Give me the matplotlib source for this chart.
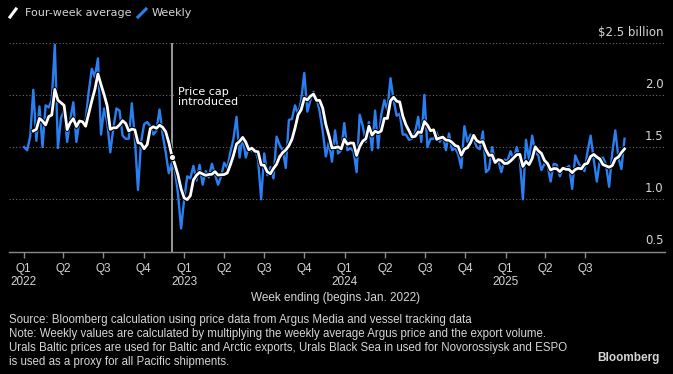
import matplotlib
matplotlib.use("Agg")
import matplotlib.pyplot as plt
import matplotlib.dates as mdates
import matplotlib.patheffects as pe
from matplotlib.lines import Line2D
import numpy as np
import pandas as pd

# ---------------- data ----------------
start_week = "2022-01-02"
weekly = [
    1.50, 1.47, 1.60, 2.05, 1.56, 1.89, 1.50, 1.90, 1.88, 1.95,
    2.48, 1.49, 1.78, 1.85, 1.55, 1.76, 1.93, 1.55, 1.76, 1.73,
    1.76, 2.03, 2.25, 2.17, 2.35, 1.62, 1.87, 1.74, 1.45, 1.68,
    1.87, 1.85, 1.61, 1.58, 1.58, 1.92, 1.58, 1.09, 1.55, 1.72,
    1.74, 1.70, 1.62, 1.66, 1.86, 1.62, 1.45, 1.25, 1.35, 1.28,
    1.05, 0.72, 1.00, 1.22, 1.20, 1.32, 1.18, 1.33, 1.14, 1.27,
    1.21, 1.34, 1.24, 1.14, 1.22, 1.35, 1.30, 1.45, 1.58, 1.79,
    1.40, 1.60, 1.40, 1.50, 1.46, 1.48, 1.38, 1.00, 1.44, 1.23,
    1.31, 1.20, 1.60, 1.52, 1.47, 1.30, 1.76, 1.77, 1.90, 1.81,
    1.95, 2.21, 1.84, 1.95, 2.03, 1.97, 1.84, 1.65, 1.41, 1.55,
    1.36, 1.66, 1.44, 1.47, 1.73, 1.47, 1.49, 1.46, 1.26, 1.81,
    1.70, 1.55, 1.74, 1.47, 1.85, 1.49, 1.81, 1.95, 1.85, 2.16,
    1.95, 1.80, 1.82, 1.62, 1.62, 1.57, 1.58, 1.64, 1.79, 1.55,
    2.00, 1.50, 1.58, 1.58, 1.64, 1.55, 1.61, 1.47, 1.63, 1.47,
    1.49, 1.43, 1.30, 1.70, 1.55, 1.62, 1.58, 1.50, 1.48, 1.65,
    1.26, 1.29, 1.50, 1.36, 1.37, 1.26, 1.38, 1.37, 1.46, 1.38,
    1.50, 1.38, 1.00, 1.57, 1.38, 1.61, 1.45, 1.42, 1.28, 1.34,
    1.33, 1.17, 1.34, 1.33, 1.22, 1.30, 1.30, 1.32, 1.10, 1.42,
    1.35, 1.30, 1.27, 1.46, 1.61, 1.38, 1.17, 1.38, 1.40, 1.33,
    1.12, 1.44, 1.66, 1.40, 1.29, 1.58,
]
quarter_starts = pd.date_range("2022-01-01", "2025-07-01", freq="QS")
quarter_labels = ["Q1\n2022", "Q2", "Q3", "Q4",
                  "Q1\n2023", "Q2", "Q3", "Q4",
                  "Q1\n2024", "Q2", "Q3", "Q4",
                  "Q1\n2025", "Q2", "Q3"]
y_gridvals = [1.0, 1.5, 2.0, 2.5]
y_labels = ["0.5", "1.0", "1.5", "2.0", "$2.5 billion"]
y_labelvals = [0.5, 1.0, 1.5, 2.0, 2.5]
price_cap_date = pd.Timestamp("2022-12-05")

dates = pd.date_range(start_week, periods=len(weekly), freq="7D")
s = pd.Series(weekly, index=dates)
avg = s.rolling(4).mean()

# ---------------- style ----------------
W, H = 673, 374
BLUE = "#2a80f2"
TXT = "#d6d6d6"
narrow = ["Liberation Sans", "DejaVu Sans"]

fig = plt.figure(figsize=(W / 100, H / 100), dpi=100, facecolor="black")
ax = fig.add_axes([9 / W, (H - 251.5) / H, 656 / W, 208.8 / H])
ax.set_facecolor("black")

xnum = mdates.date2num(dates)
ax.plot(xnum, s.values, color=BLUE, lw=1.7, solid_joinstyle="round", zorder=3)
ax.plot(xnum, avg.values, color="white", lw=2.0, solid_joinstyle="round", zorder=4,
        path_effects=[pe.Stroke(linewidth=3.4, foreground="black"), pe.Normal()])

pc = mdates.date2num(price_cap_date)
ax.axvline(pc, color="#9a9a9a", lw=1.4, zorder=2)
valid = ~np.isnan(avg.values)
pc_val = np.interp(pc, xnum[valid], avg.values[valid])
ax.plot([pc], [pc_val], marker="o", ms=4.5, mfc="white", mec="black", mew=0.8, zorder=5)
ax.text(pc + 12, 2.075, "Price cap\nintroduced", color="white", fontsize=8,
        va="top", ha="left", linespacing=1.0, zorder=6,
        bbox=dict(facecolor="black", edgecolor="none", pad=1.0))

x0 = mdates.date2num(pd.Timestamp("2022-01-01")) - 33.2
x1 = mdates.date2num(pd.Timestamp("2022-01-01")) + 1458
ax.set_xlim(x0, x1)
ax.set_ylim(0.5, 2.5)

for v in y_gridvals:
    ax.axhline(v, color="#6a6a6a", lw=0.8, ls=(0, (1, 2)), zorder=1)

for sp in ["left", "right", "top"]:
    ax.spines[sp].set_visible(False)
ax.spines["bottom"].set_color("#8a8a8a")
ax.spines["bottom"].set_linewidth(1.0)
ax.set_yticks([])
ax.set_xticks(mdates.date2num(quarter_starts))
ax.set_xticklabels(quarter_labels)
ax.tick_params(axis="x", colors="#8a8a8a", length=4, width=1.0, pad=4,
               labelcolor=TXT, labelsize=8.5)
for t in ax.get_xticklabels():
    t.set_family(narrow)
    t.set_linespacing(1.1)

ytr = ax.get_yaxis_transform()
for v, lab in zip(y_labelvals, y_labels):
    ax.annotate(lab, xy=(0.998, v), xycoords=ytr, xytext=(0, 3),
                textcoords="offset points", ha="right", va="bottom",
                color=TXT, fontsize=8.5)

# legend
fig.add_artist(Line2D([10 / W, 16 / W], [1 - 17 / H, 1 - 9 / H], color="white", lw=2.2,
                      transform=fig.transFigure))
fig.text(25 / W, 1 - 13.5 / H, "Four-week average", color=TXT, fontsize=8, va="center", ha="left")
fig.add_artist(Line2D([138 / W, 146 / W], [1 - 17 / H, 1 - 9 / H], color=BLUE, lw=2.2,
                      transform=fig.transFigure))
fig.text(152 / W, 1 - 13.5 / H, "Weekly", color=TXT, fontsize=8, va="center", ha="left")

fig.text(336 / W, 1 - 298 / H, "Week ending (begins Jan. 2022)", color=TXT, fontsize=8.5,
         ha="center", va="center", family=narrow)

foot = ("Source: Bloomberg calculation using price data from Argus Media and vessel tracking data\n"
        "Note: Weekly values are calculated by multiplying the weekly average Argus price and the export volume.\n"
        "Urals Baltic prices are used for Baltic and Arctic exports, Urals Black Sea in used for Novorossiysk and ESPO\n"
        "is used as a proxy for all Pacific shipments.")
fig.text(9 / W, 1 - 314.5 / H, foot, color=TXT, fontsize=8.3, ha="left", va="top",
         linespacing=1.22, family=narrow)
fig.text(660 / W, 1 - 357.5 / H, "Bloomberg", color=TXT, fontsize=8.5, ha="right", va="center",
         family=narrow, fontweight="bold")

fig.savefig("out.png", dpi=100, facecolor="black")
